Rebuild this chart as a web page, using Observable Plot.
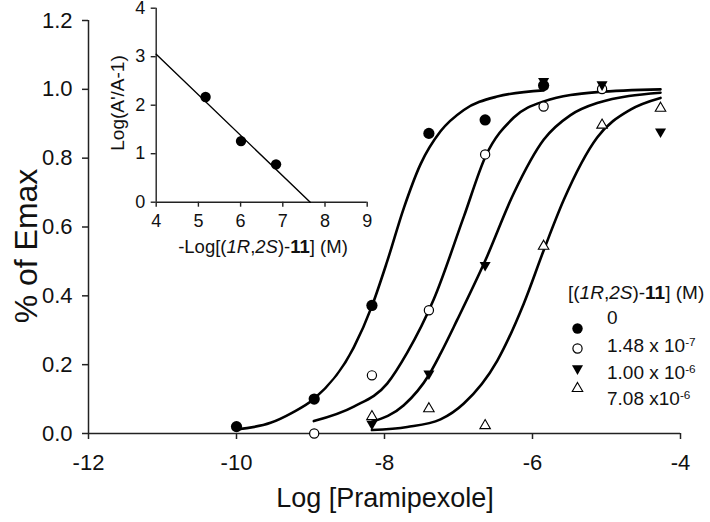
<!DOCTYPE html>
<html><head><meta charset="utf-8">
<script src="https://cdn.jsdelivr.net/npm/d3@7"></script>
<script src="https://cdn.jsdelivr.net/npm/@observablehq/plot@0.6"></script>
<style>
body{margin:0;background:#fff;}
#wrap{position:relative;width:710px;height:522px;overflow:hidden;font-family:"Liberation Sans",Arial,sans-serif;color:#111;background:#fff;}
#wrap svg{position:absolute;}
.lab{position:absolute;white-space:nowrap;line-height:1;}
sup{font-size:0.62em;vertical-align:0.55em;line-height:0;}
</style></head><body><div id="wrap"></div>
<script>
// ---------- main chart data ----------
const xTicks = [-12, -10, -8, -6, -4];
const xTickLabels = ["-12", "-10", "-8", "-6", "-4"];
const yTicks = [0, 0.2, 0.4, 0.6, 0.8, 1.0, 1.2];
const yTickLabels = ["0.0", "0.2", "0.4", "0.6", "0.8", "1.0", "1.2"];

const seriesKeys = ["0", "1.48e-7", "1.00e-6", "7.08e-6"];

// measured points
const ptsX0 = [-10.0, -8.95, -8.17, -7.40, -6.64, -5.85];
const ptsY0 = [0.02, 0.10, 0.372, 0.872, 0.911, 1.011];
const ptsX1 = [-8.95, -8.17, -7.40, -6.64, -5.85, -5.06];
const ptsY1 = [0.00, 0.169, 0.358, 0.811, 0.95, 1.001];
const ptsX2 = [-8.17, -7.40, -6.64, -5.85, -5.06, -4.27];
const ptsY2 = [0.028, 0.174, 0.489, 1.024, 1.014, 0.877];
const ptsX3 = [-8.17, -7.40, -6.64, -5.85, -5.06, -4.27];
const ptsY3 = [0.049, 0.072, 0.023, 0.544, 0.896, 0.945];

// fitted curves
const curveX0 = [-10.0, -9.54, -9.25, -8.955, -8.415, -8.17, -7.964, -7.739, -7.514, -7.243, -6.928, -6.477, -5.85];
const curveY0 = [0.012, 0.031, 0.06, 0.10, 0.25, 0.37, 0.50, 0.655, 0.782, 0.878, 0.94, 0.979, 0.997];
const curveX1 = [-8.955, -8.415, -7.964, -7.693, -7.334, -6.928, -6.635, -6.253, -5.847, -5.126, -4.27];
const curveY1 = [0.036, 0.078, 0.145, 0.235, 0.39, 0.63, 0.805, 0.918, 0.965, 0.992, 1.0];
const curveX2 = [-8.17, -7.739, -7.4, -7.243, -7.018, -6.635, -6.253, -5.847, -5.486, -5.126, -4.27];
const curveY2 = [0.034, 0.082, 0.17, 0.232, 0.33, 0.504, 0.698, 0.854, 0.925, 0.96, 0.99];
const curveX3 = [-8.17, -7.693, -7.243, -6.928, -6.477, -6.117, -5.847, -5.577, -5.126, -4.676, -4.27];
const curveY3 = [0.01, 0.019, 0.041, 0.087, 0.211, 0.378, 0.533, 0.679, 0.86, 0.941, 0.975];

// ---------- inset data ----------
const insetXTicks = [4, 5, 6, 7, 8, 9];
const insetYTicks = [0, 1, 2, 3, 4];
const insetPtsX = [5.17, 6.01, 6.84];
const insetPtsY = [2.17, 1.26, 0.78];
const insetLineX = [4, 7.65];
const insetLineY = [3.05, 0];

// ---------- legend ----------
const legendTitle = '[(<i>1R</i>,<i>2S</i>)-<b>11</b>] (M)';
const legendLabels = ['0', '1.48 x 10<sup>-7</sup>', '1.00 x 10<sup>-6</sup>', '7.08 x10<sup>-6</sup>'];

// ---------- build tables ----------
const ptsXs = [ptsX0, ptsX1, ptsX2, ptsX3], ptsYs = [ptsY0, ptsY1, ptsY2, ptsY3];
const curveXs = [curveX0, curveX1, curveX2, curveX3], curveYs = [curveY0, curveY1, curveY2, curveY3];
const points = seriesKeys.map((s, k) => ptsXs[k].map((x, i) => ({s, x, y: ptsYs[k][i]})));
const curves = seriesKeys.flatMap((s, k) => curveXs[k].map((x, i) => ({s, x, y: curveYs[k][i]})));
const insetPts = insetPtsX.map((x, i) => ({x, y: insetPtsY[i]}));
const insetLine = insetLineX.map((x, i) => ({x, y: insetLineY[i]}));

const FONT = "Liberation Sans, Arial, sans-serif";
const AX = "#222";

const dotStyles = [
  {symbol: "circle", r: 5.6, fill: "#000", stroke: "none"},
  {symbol: "circle", r: 4.6, fill: "#fff", stroke: "#000", strokeWidth: 1.2},
  {symbol: "triangle", r: 4.1, fill: "#000", stroke: "none", rotate: 180},
  {symbol: "triangle", r: 3.9, fill: "#fff", stroke: "#000", strokeWidth: 1.1}
];

const wrap = document.getElementById("wrap");

const main = Plot.plot({
  width: 710, height: 522,
  marginLeft: 88, marginRight: 30, marginTop: 20, marginBottom: 89,
  style: {fontFamily: FONT, fontSize: "22px", color: "#111", background: "transparent", overflow: "visible"},
  x: {domain: [-12, -4]},
  y: {domain: [0, 1.2]},
  marks: [
    Plot.axisX({ticks: xTicks, tickFormat: d => xTickLabels[xTicks.indexOf(d)], tickSize: 6, tickPadding: 15, stroke: AX, strokeWidth: 1.5, label: null, fontSize: 22}),
    Plot.axisY({ticks: yTicks, tickFormat: d => yTickLabels[yTicks.indexOf(d)], tickSize: 6, tickPadding: 10, stroke: AX, strokeWidth: 1.5, label: null, fontSize: 22}),
    Plot.ruleX([-12], {stroke: AX, strokeWidth: 1.5}),
    Plot.ruleY([0], {stroke: AX, strokeWidth: 1.5}),
    Plot.line(curves, {x: "x", y: "y", z: "s", stroke: "#000", strokeWidth: 2.6, curve: "monotone-x"}),
    ...points.map((data, k) => Plot.dot(data, {x: "x", y: "y", ...dotStyles[k]}))
  ]
});
main.style.left = "0px"; main.style.top = "0px";
wrap.appendChild(main);

const inset = Plot.plot({
  width: 290, height: 260,
  marginLeft: 65.7, marginRight: 13.3, marginTop: 7.7, marginBottom: 58.3,
  style: {fontFamily: FONT, fontSize: "18px", color: "#111", background: "transparent", overflow: "visible"},
  x: {domain: [4, 9]},
  y: {domain: [0, 4]},
  marks: [
    Plot.axisX({ticks: insetXTicks, tickFormat: d => String(d), tickSize: 5, tickPadding: 7, stroke: AX, strokeWidth: 1.4, label: null, fontSize: 18}),
    Plot.axisY({ticks: insetYTicks, tickFormat: d => String(d), tickSize: 5, tickPadding: 6, stroke: AX, strokeWidth: 1.4, label: null, fontSize: 18}),
    Plot.ruleX([4], {stroke: AX, strokeWidth: 1.4}),
    Plot.ruleY([0], {stroke: AX, strokeWidth: 1.4}),
    Plot.line(insetLine, {x: "x", y: "y", stroke: "#000", strokeWidth: 1.4}),
    Plot.dot(insetPts, {x: "x", y: "y", r: 5.2, fill: "#000"})
  ]
});
inset.style.left = "90px"; inset.style.top = "0px";
wrap.appendChild(inset);

// legend symbols
const legendRows = seriesKeys.map(key => ({key}));
const leg = Plot.plot({
  width: 24, height: 100, margin: 0,
  style: {background: "transparent", overflow: "visible"},
  x: {domain: [0, 1], axis: null},
  y: {type: "point", domain: seriesKeys, range: [5, 86], axis: null},
  marks: legendRows.map((row, k) => Plot.dot([row], {x: () => 0.5, y: "key", ...dotStyles[k], r: k === 0 ? 5.2 : dotStyles[k].r}))
});
leg.style.left = "565px"; leg.style.top = "312px";
wrap.appendChild(leg);

function addLabel(html, css) {
  const d = document.createElement("div");
  d.className = "lab";
  d.innerHTML = html;
  Object.assign(d.style, css);
  wrap.appendChild(d);
  return d;
}
// axis titles
addLabel("Log [Pramipexole]", {left: "385px", top: "498px", fontSize: "27px", transform: "translate(-50%,-50%)"});
addLabel("% of Emax", {left: "26px", top: "246px", fontSize: "32px", transform: "translate(-50%,-50%) rotate(-90deg)"});
addLabel("-Log[(<i>1R</i>,<i>2S</i>)-<b>11</b>] (M)", {left: "263px", top: "247px", fontSize: "18.5px", transform: "translate(-50%,-50%)"});
addLabel("Log(A'/A-1)", {left: "117px", top: "103px", fontSize: "19px", transform: "translate(-50%,-50%) rotate(-90deg)"});
// legend text
addLabel(legendTitle, {left: "568px", top: "283px", fontSize: "19px"});
const rowTops = [308, 336, 363, 389];
legendLabels.forEach((t, i) => addLabel(t, {left: "607px", top: rowTops[i] + "px", fontSize: "19px"}));
</script></body></html>
